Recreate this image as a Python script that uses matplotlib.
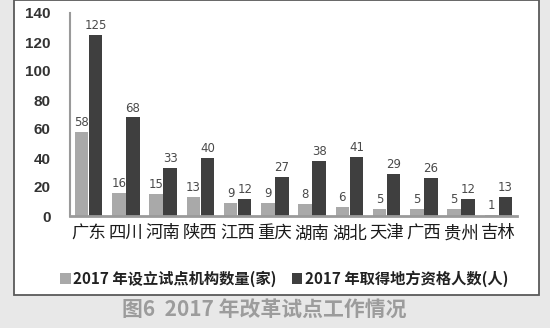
import matplotlib
matplotlib.use("Agg")
import matplotlib.pyplot as plt
from matplotlib.patches import Rectangle, Patch

plt.rcParams['font.family'] = ['Noto Sans CJK SC', 'DejaVu Sans']

provinces = ["广东", "四川", "河南", "陕西", "江西", "重庆", "湖南", "湖北", "天津", "广西", "贵州", "吉林"]
institutions = [58, 16, 15, 13, 9, 9, 8, 6, 5, 5, 5, 1]
qualified = [125, 68, 33, 40, 12, 27, 38, 41, 29, 26, 12, 13]
yticks = [0, 20, 40, 60, 80, 100, 120, 140]
legend_labels = ["2017 年设立试点机构数量(家)", "2017 年取得地方资格人数(人)"]
caption = "图6  2017 年改革试点工作情况"

W, H = 550, 328
fig = plt.figure(figsize=(W / 100, H / 100), dpi=100)
fig.patch.set_facecolor("#e8e8e8")

# white framed panel behind the chart
fig.patches.append(Rectangle((14 / W, 1 - 295 / H), (539 - 14) / W, 295 / H,
                             transform=fig.transFigure, facecolor="white",
                             edgecolor="#5a5a5a", linewidth=1.3, zorder=-10))

ax = fig.add_axes([70 / W, 1 - 216 / H, (517 - 70) / W, (216 - 13) / H])
ax.set_zorder(5)
ax.set_facecolor("none")

light = "#a9a9a9"
dark = "#3f3f3f"
bw = 0.36
x = list(range(len(provinces)))
b1 = ax.bar([i - bw / 2 - 0.01 for i in x], institutions, width=bw, color=light)
b2 = ax.bar([i + bw / 2 + 0.01 for i in x], qualified, width=bw, color=dark)

for rect, v in zip(b1, institutions):
    ax.text(rect.get_x() + rect.get_width() / 2, v + 2, str(v), ha="center",
            va="bottom", fontsize=8.5, color="#4a4a4a", family="DejaVu Sans")
for rect, v in zip(b2, qualified):
    ax.text(rect.get_x() + rect.get_width() / 2, v + 2, str(v), ha="center",
            va="bottom", fontsize=8.5, color="#4a4a4a", family="DejaVu Sans")

ax.set_xlim(-0.5, len(provinces) - 0.5)
ax.set_ylim(0, 140)
ax.set_yticks(yticks)
ax.set_yticklabels([str(t) for t in yticks], fontsize=11, fontweight="bold",
                   color="#333333", family="Liberation Sans")
ax.set_xticks(x)
ax.set_xticklabels(provinces, fontsize=12.5, color="#1a1a1a", fontweight="medium")
ax.tick_params(axis="both", length=0)
ax.tick_params(axis="y", pad=14)
ax.tick_params(axis="x", pad=6)

for s in ["top", "right"]:
    ax.spines[s].set_visible(False)
ax.spines["left"].set_color("#9a9a9a")
ax.spines["left"].set_linewidth(1.5)
ax.spines["bottom"].set_color("#9a9a9a")
ax.spines["bottom"].set_linewidth(2)

handles = [Patch(facecolor=light), Patch(facecolor=dark)]
leg = fig.legend(handles, legend_labels, loc="center", bbox_to_anchor=(284 / W, 1 - 279 / H),
                 ncol=2, frameon=False, handlelength=0.7, handleheight=0.7,
                 handletextpad=0.15, columnspacing=1.0,
                 prop={"family": ["Noto Sans CJK SC"], "size": 11, "weight": "bold"},
                 labelcolor="#222222")
leg.set_zorder(6)

fig.text(264 / W, 1 - 310 / H, caption, ha="center", va="center", fontsize=15,
         fontweight="bold", color="#9c9c9c")

fig.savefig("out.png", dpi=100, facecolor=fig.get_facecolor())
